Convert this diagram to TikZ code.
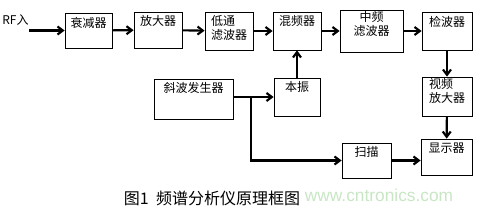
\documentclass[tikz,border=0pt]{standalone}
\usepackage{fontspec}
\setmainfont{Noto Sans CJK SC}
\newfontfamily\wmfont{Liberation Sans}
\usetikzlibrary{arrows.meta}
\definecolor{wmGreen}{HTML}{C8E6C4}
\newlength\pxu
\setlength\pxu{0.75pt}

\begin{document}
\begin{tikzpicture}[
    x=0.75pt, y=-0.75pt,
    box/.style={draw, line width=0.6pt, minimum width=48\pxu, minimum height=37\pxu, inner sep=0pt},
    lbl/.style={anchor=north, inner sep=3pt, font=\fontsize{9}{10.5}\selectfont, align=center},
    arrow/.style={-{Straight Barb[length=4pt,width=6pt]}, line width=1.6pt}
]
    \useasboundingbox (0,0) rectangle (477,210);

    % Top chain
    \node[box, minimum width=47\pxu, minimum height=35\pxu, label={[lbl]north:衰减器}] (att) at (88.5,30.5) {};
    \node[box, minimum height=36\pxu, label={[lbl]north:放大器}] (amp) at (158,30) {};
    \node[box, minimum height=38\pxu, label={[lbl, align=left]north:低通\\滤波器}] (lpf) at (229,31) {};
    \node[box, minimum height=38\pxu, label={[lbl]north:混频器}] (mix) at (297,31) {};
    \node[box, minimum width=63\pxu, minimum height=42\pxu, label={[lbl, inner sep=1pt]north:中频\\滤波器}] (iff) at (371.5,31) {};
    \node[box, minimum width=50\pxu, minimum height=38\pxu, label={[lbl]north:检波器}] (det) at (447,31) {};

    % Lower blocks
    \node[box, minimum width=46\pxu, minimum height=38\pxu, label={[lbl]north:本振}] (lo) at (297,97) {};
    \node[box, minimum width=50\pxu, minimum height=39\pxu, label={[lbl, align=left, inner sep=1pt]north:视频\\放大器}] (vamp) at (447,96.5) {};
    \node[box, minimum width=79\pxu, minimum height=40\pxu, label={[lbl]north:斜波发生器}] (ramp) at (193.5,99) {};
    \node[box, minimum width=49\pxu, minimum height=35\pxu, label={[lbl]north:扫描}] (scan) at (366.5,160.5) {};
    \node[box, minimum width=51\pxu, minimum height=36\pxu, label={[lbl]north:显示器}] (disp) at (446.5,157) {};

    % Input
    \node[font=\fontsize{9}{10}\selectfont, inner sep=0pt] (rf) at (15.5,20) {RF入};
    \coordinate (rfin) at (29,30.5);
    \coordinate (br) at (251,97);

    % Arrows
    \draw[arrow] (rfin) -- (att);
    \draw[arrow] (att) -- (amp);
    \draw[arrow] (amp) -- (lpf);
    \draw[arrow] (lpf) -- (mix);
    \draw[arrow] (mix) -- (iff);
    \draw[arrow] (iff) -- (det);
    \draw[arrow] (det) -- (vamp);
    \draw[arrow] (vamp) -- (disp);
    \draw[arrow] (lo) -- (mix);
    \draw[arrow] (ramp.east |- lo.west) -- (lo.west);
    \draw[arrow] (br) |- (scan.west);
    \draw[arrow] (scan.east) -- (disp.west |- scan.east);

    % Caption
    \node[font=\fontsize{12}{14}\selectfont, inner sep=0pt] (cap) at (212,198) {图1\ \ 频谱分析仪原理框图};
    \node[font=\wmfont\fontsize{13}{15}\selectfont, text=wmGreen, inner sep=0pt] (wm) at (379,195) {www.cntronics.com};
\end{tikzpicture}
\end{document}
